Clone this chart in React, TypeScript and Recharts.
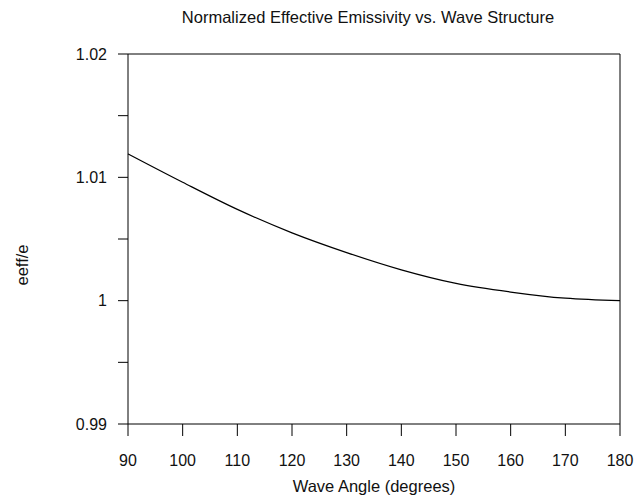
import { Line, LineChart, ReferenceLine, XAxis, YAxis } from "recharts";

const angles = [90, 100, 110, 120, 130, 140, 150, 160, 170, 180];
const ratio = [1.0119, 1.0096, 1.0074, 1.0055, 1.0039, 1.0025, 1.0014, 1.0007, 1.0002, 1.0];

const xTicks = [90, 100, 110, 120, 130, 140, 150, 160, 170, 180];
const yTicks = [0.99, 0.995, 1, 1.005, 1.01, 1.015, 1.02];
const yTickLabels = ["0.99", "", "1", "", "1.01", "", "1.02"];

const data = angles.map((a, i) => ({ angle: a, eeff: ratio[i] }));

const font = "'Liberation Sans', Arial, sans-serif";

export default function App() {
  return (
    <div
      style={{
        position: "absolute",
        left: 0,
        top: 0,
        width: 637,
        height: 502,
        background: "#fff",
        fontFamily: font,
      }}
    >
      <div
        style={{
          position: "absolute",
          left: 0,
          width: 736,
          top: 7,
          textAlign: "center",
          fontSize: 16.5,
          color: "#111",
          lineHeight: "20px",
        }}
      >
        Normalized Effective Emissivity vs. Wave Structure
      </div>
      <div
        style={{
          position: "absolute",
          left: 0,
          width: 748,
          top: 476,
          textAlign: "center",
          fontSize: 16.5,
          color: "#111",
          lineHeight: "20px",
        }}
      >
        Wave Angle (degrees)
      </div>
      <div
        style={{
          position: "absolute",
          left: 22,
          top: 265,
          transform: "translate(-50%, -50%) rotate(-90deg)",
          fontSize: 16.5,
          color: "#111",
          whiteSpace: "nowrap",
        }}
      >
        eeff/e
      </div>
      <LineChart
        width={637}
        height={502}
        data={data}
        margin={{ top: 54, right: 17, left: 68, bottom: 38 }}
      >
        <XAxis
          dataKey="angle"
          type="number"
          domain={[90, 180]}
          ticks={xTicks}
          interval={0}
          height={40}
          tickSize={12}
          tickMargin={19}
          stroke="#000"
          tick={{ fill: "#111", fontSize: 16, fontFamily: font }}
        />
        <YAxis
          type="number"
          domain={[0.99, 1.02]}
          ticks={yTicks}
          interval={0}
          width={60}
          tickSize={10}
          tickMargin={11}
          stroke="#000"
          tickFormatter={(_v: number, i: number) => yTickLabels[i]}
          tick={{ fill: "#111", fontSize: 16, fontFamily: font }}
        />
        <ReferenceLine y={1.02} stroke="#000" />
        <ReferenceLine x={180} stroke="#000" />
        <Line
          type="monotone"
          dataKey="eeff"
          stroke="#000"
          strokeWidth={1.2}
          dot={false}
          isAnimationActive={false}
        />
      </LineChart>
    </div>
  );
}
